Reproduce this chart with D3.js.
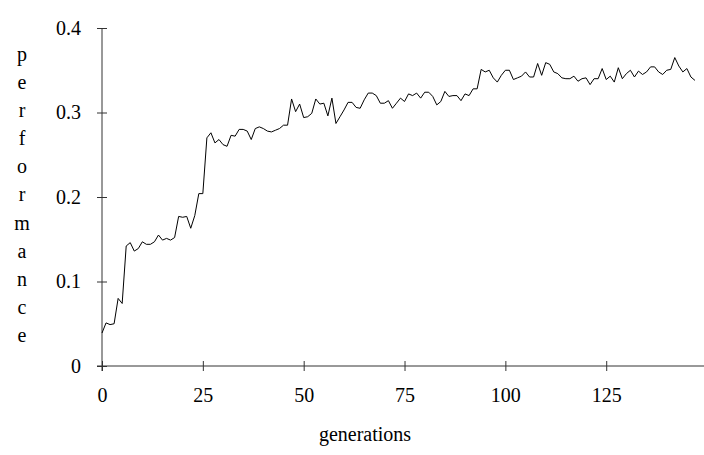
<!DOCTYPE html>
<html lang="en">
<head>
    <meta charset="UTF-8">
    <title>performance vs generations</title>
    <script src="https://d3js.org/d3.v7.min.js"></script>
    <style>
        body { margin: 0; background: #fff; }
        text { font-family: "Liberation Serif", "Times New Roman", serif; fill: #000; }
    </style>
</head>
<body>
    <script>
        // performance per generation
        const perf = [
            0.039, 0.051, 0.049, 0.050, 0.080, 0.074, 0.142, 0.146, 0.136, 0.139,
            0.147, 0.144, 0.144, 0.147, 0.155, 0.149, 0.151, 0.149, 0.152, 0.177,
            0.176, 0.177, 0.163, 0.178, 0.204, 0.204, 0.270, 0.276, 0.264, 0.268,
            0.262, 0.260, 0.273, 0.272, 0.280, 0.280, 0.278, 0.268, 0.281, 0.283,
            0.281, 0.278, 0.277, 0.279, 0.281, 0.285, 0.285, 0.316, 0.301, 0.310,
            0.294, 0.295, 0.299, 0.316, 0.310, 0.311, 0.296, 0.317, 0.287, 0.295,
            0.303, 0.312, 0.312, 0.306, 0.305, 0.315, 0.323, 0.323, 0.320, 0.311,
            0.311, 0.314, 0.305, 0.311, 0.317, 0.313, 0.322, 0.320, 0.323, 0.317,
            0.324, 0.324, 0.319, 0.309, 0.313, 0.325, 0.319, 0.320, 0.320, 0.314,
            0.322, 0.320, 0.328, 0.328, 0.351, 0.348, 0.350, 0.341, 0.336, 0.344,
            0.350, 0.350, 0.339, 0.341, 0.343, 0.348, 0.342, 0.342, 0.358, 0.344,
            0.359, 0.357, 0.348, 0.346, 0.341, 0.340, 0.340, 0.343, 0.337, 0.340,
            0.341, 0.333, 0.340, 0.340, 0.352, 0.339, 0.343, 0.336, 0.353, 0.340,
            0.346, 0.350, 0.342, 0.349, 0.345, 0.348, 0.354, 0.354, 0.348, 0.345,
            0.350, 0.351, 0.365, 0.355, 0.348, 0.352, 0.342, 0.338
        ];
        const xTicks = [0, 25, 50, 75, 100, 125];
        const yTicks = [0, 0.1, 0.2, 0.3, 0.4];
        const yLabel = "performance";
        const xLabel = "generations";

        const W = 704, H = 455;
        const data = perf.map((v, i) => ({ g: i, v: v }));

        const svg = d3.select("body").append("svg")
            .attr("width", W).attr("height", H);

        const x = d3.scaleLinear().domain([0, 148.5]).range([102, 701]);
        const y = d3.scaleLinear().domain([0, 0.4]).range([366, 28]);

        // x axis: line runs to the right edge, ticks cross the line
        const gx = svg.append("g")
            .attr("transform", `translate(0,${y(0)})`)
            .call(d3.axisBottom(x).tickValues(xTicks).tickFormat(d3.format("d"))
                .tickSize(5).tickPadding(17));
        gx.select(".domain").remove();
        gx.append("line")
            .attr("x1", x(0) - 5).attr("x2", W)
            .attr("stroke", "#333");
        gx.selectAll(".tick line").attr("y1", -5).attr("stroke", "#333");
        gx.selectAll(".tick text").style("font-size", "20px")
            .attr("font-family", null);

        // y axis
        const gy = svg.append("g")
            .attr("transform", `translate(${x(0)},0)`)
            .call(d3.axisLeft(y).tickValues(yTicks).tickFormat(d => d === 0 ? "0" : d3.format(".1f")(d))
                .tickSize(5).tickPadding(16));
        gy.select(".domain").remove();
        gy.append("line")
            .attr("y1", y(0.4)).attr("y2", y(0) + 5)
            .attr("stroke", "#333");
        gy.selectAll(".tick line").attr("x1", 5).attr("stroke", "#333");
        gy.selectAll(".tick text").style("font-size", "20px")
            .attr("font-family", null);

        // vertical stacked y label, one letter per row
        const rowStep = (y(0) - y(0.1)) / 3;
        svg.append("g").selectAll("text")
            .data(yLabel.split(""))
            .enter().append("text")
            .attr("x", 22)
            .attr("y", (d, i) => y(0.3) + (i - 2) * rowStep - 2)
            .attr("dy", "0.32em")
            .attr("text-anchor", "middle")
            .style("font-size", "20px")
            .text(d => d);

        svg.append("text")
            .attr("x", 365).attr("y", 441)
            .attr("text-anchor", "middle")
            .style("font-size", "20px")
            .text(xLabel);

        // the series
        svg.append("path")
            .datum(data)
            .attr("fill", "none")
            .attr("stroke", "#000")
            .attr("stroke-width", 1)
            .attr("d", d3.line()
                .x(d => x(d.g))
                .y(d => y(d.v)));
    </script>
</body>
</html>
